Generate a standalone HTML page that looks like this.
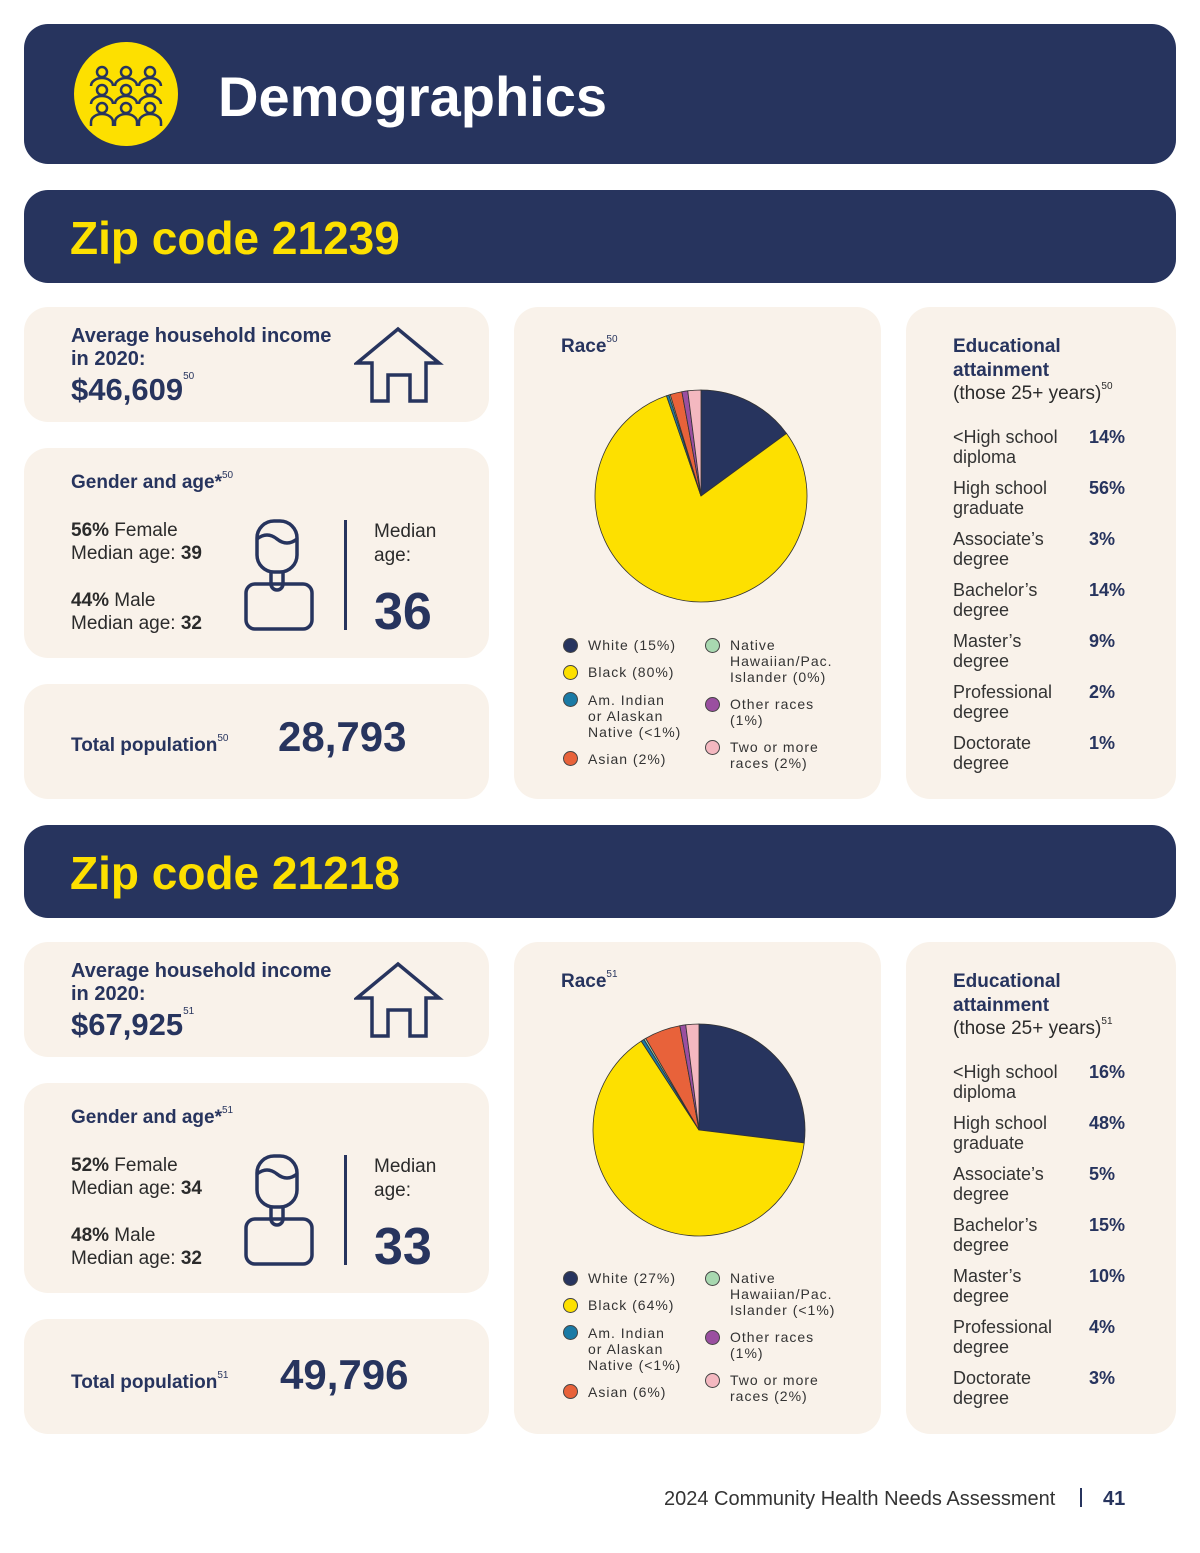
<!DOCTYPE html>
<html><head><meta charset="utf-8">
<style>
*{margin:0;padding:0;box-sizing:border-box}
body{width:1200px;height:1553px;background:#fff;position:relative;overflow:hidden;font-family:"Liberation Sans",sans-serif;color:#27345e}
.a{position:absolute}
.box{position:absolute;border-radius:24px}
.navy{background:#27345e}
.card{background:#f9f2ea}
.t{position:absolute;line-height:1;white-space:nowrap}
.b{font-weight:bold}
.sup{font-size:10px;font-weight:normal;vertical-align:top;position:relative;top:-2px}
.r{color:#2b2b2b;font-size:18px}
.lg{position:absolute;font-size:14px;letter-spacing:1px;line-height:16px;color:#333;white-space:nowrap}
.dot{position:absolute;width:15px;height:15px;border-radius:50%;border:1px solid #444}
.el{position:absolute;font-size:18px;line-height:20px;color:#333;white-space:nowrap}
.ep{position:absolute;font-size:18px;font-weight:bold;line-height:20px;color:#27345e}
.sec{position:absolute;left:0;width:1200px;height:640px}
</style></head><body>
<div class="box navy" style="left:24px;top:24px;width:1152px;height:140px">
  <svg class="a" style="left:50px;top:18px" width="104" height="104">
    <circle cx="52" cy="52" r="52" fill="#fde000"/>
    <g fill="none" stroke="#27345e" stroke-width="2.5">
      <circle cx="28" cy="30" r="5"/><circle cx="52" cy="30" r="5"/><circle cx="76" cy="30" r="5"/>
      <circle cx="28" cy="48" r="5"/><circle cx="52" cy="48" r="5"/><circle cx="76" cy="48" r="5"/>
      <circle cx="28" cy="66" r="5"/><circle cx="52" cy="66" r="5"/><circle cx="76" cy="66" r="5"/>
      <path d="M17 44a11 8 0 0 1 22 0M41 44a11 8 0 0 1 22 0M65 44a11 8 0 0 1 22 0"/>
      <path d="M17 62a11 8 0 0 1 22 0M41 62a11 8 0 0 1 22 0M65 62a11 8 0 0 1 22 0"/>
      <path d="M17 84v-4a11 8 0 0 1 22 0v4M41 84v-4a11 8 0 0 1 22 0v4M65 84v-4a11 8 0 0 1 22 0v4"/>
    </g>
  </svg>
  <div class="t b" style="left:194px;top:45px;font-size:56px;color:#fff">Demographics</div>
</div>

<!-- SECTION 1 -->
<div class="sec" style="top:0">
  <div class="box navy" style="left:24px;top:190px;width:1152px;height:93px">
    <div class="t b" style="left:46px;top:25px;font-size:46px;color:#fde000">Zip code 21239</div>
  </div>
  <div class="box card" style="left:24px;top:307px;width:465px;height:115px">
    <div class="t b" style="left:47px;top:19px;font-size:20px">Average household income</div>
    <div class="t b" style="left:47px;top:42px;font-size:20px">in 2020:</div>
    <div class="t b" style="left:47px;top:67px;font-size:31px">$46,609<span class="sup">50</span></div>
    <svg class="a" style="left:330px;top:18px" width="90" height="80"><path d="M3 38L44 4L85 38H72V76H56V50H34V76H18V38Z" fill="none" stroke="#27345e" stroke-width="3.5" stroke-linejoin="miter"/></svg>
  </div>
  <div class="box card" style="left:24px;top:448px;width:465px;height:210px">
    <div class="t b" style="left:47px;top:25px;font-size:19px">Gender and age*<span class="sup">50</span></div>
    <div class="t r" style="left:47px;top:73px;font-size:19px"><b>56%</b> Female</div>
    <div class="t r" style="left:47px;top:96px;font-size:19px">Median age: <b>39</b></div>
    <div class="t r" style="left:47px;top:143px;font-size:19px"><b>44%</b> Male</div>
    <div class="t r" style="left:47px;top:166px;font-size:19px">Median age: <b>32</b></div>
    <svg class="a" style="left:218px;top:70px" width="74" height="114"><g fill="none" stroke="#27345e" stroke-width="3.5"><rect x="15" y="3" width="40" height="51" rx="17"/><path d="M15 21q10 -8 20 0t20 0"/><path d="M29 54v12a6 6 0 0 0 12 0v-12"/><rect x="4" y="66" width="66" height="45" rx="9"/></g></svg>
    <div class="a" style="left:320px;top:72px;width:3px;height:110px;background:#27345e"></div>
    <div class="t r" style="left:350px;top:74px;font-size:19px">Median</div>
    <div class="t r" style="left:350px;top:98px;font-size:19px">age:</div>
    <div class="t b" style="left:350px;top:138px;font-size:52px">36</div>
  </div>
  <div class="box card" style="left:24px;top:684px;width:465px;height:115px">
    <div class="t b" style="left:47px;top:52px;font-size:19px">Total population<span class="sup">50</span></div>
    <div class="t b" style="left:254px;top:32px;font-size:42px">28,793</div>
  </div>
  <div class="box card" style="left:514px;top:307px;width:367px;height:492px">
    <div class="t b" style="left:47px;top:30px;font-size:19px">Race<span class="sup">50</span></div>
    <svg id="pie1" class="a" style="left:0;top:0" width="367" height="320"></svg>
    <div class="dot" style="left:49px;top:331px;background:#27345e"></div><div class="lg" style="left:74px;top:330px">White (15%)</div>
    <div class="dot" style="left:49px;top:358px;background:#fde000"></div><div class="lg" style="left:74px;top:357px">Black (80%)</div>
    <div class="dot" style="left:49px;top:385px;background:#1a7aa5"></div><div class="lg" style="left:74px;top:385px">Am. Indian<br>or Alaskan<br>Native (&lt;1%)</div>
    <div class="dot" style="left:49px;top:444px;background:#e8623a"></div><div class="lg" style="left:74px;top:444px">Asian (2%)</div>
    <div class="dot" style="left:191px;top:331px;background:#a8d8b0"></div><div class="lg" style="left:216px;top:330px">Native<br>Hawaiian/Pac.<br>Islander (0%)</div>
    <div class="dot" style="left:191px;top:390px;background:#9a4fa0"></div><div class="lg" style="left:216px;top:389px">Other races<br>(1%)</div>
    <div class="dot" style="left:191px;top:433px;background:#f4b8c0"></div><div class="lg" style="left:216px;top:432px">Two or more<br>races (2%)</div>
  </div>
  <div class="box card" style="left:906px;top:307px;width:270px;height:492px">
    <div class="t b" style="left:47px;top:30px;font-size:19px">Educational</div>
    <div class="t b" style="left:47px;top:54px;font-size:19px">attainment</div>
    <div class="t r" style="left:47px;top:77px;font-size:19px">(those 25+ years)<span class="sup">50</span></div>
    <div class="el" style="left:47px;top:120px">&lt;High school<br>diploma</div><div class="ep" style="left:183px;top:120px">14%</div>
    <div class="el" style="left:47px;top:171px">High school<br>graduate</div><div class="ep" style="left:183px;top:171px">56%</div>
    <div class="el" style="left:47px;top:222px">Associate’s<br>degree</div><div class="ep" style="left:183px;top:222px">3%</div>
    <div class="el" style="left:47px;top:273px">Bachelor’s<br>degree</div><div class="ep" style="left:183px;top:273px">14%</div>
    <div class="el" style="left:47px;top:324px">Master’s<br>degree</div><div class="ep" style="left:183px;top:324px">9%</div>
    <div class="el" style="left:47px;top:375px">Professional<br>degree</div><div class="ep" style="left:183px;top:375px">2%</div>
    <div class="el" style="left:47px;top:426px">Doctorate<br>degree</div><div class="ep" style="left:183px;top:426px">1%</div>
  </div>
</div>

<!-- SECTION 2 -->
<div class="sec" style="top:635px">
  <div class="box navy" style="left:24px;top:190px;width:1152px;height:93px">
    <div class="t b" style="left:46px;top:25px;font-size:46px;color:#fde000">Zip code 21218</div>
  </div>
  <div class="box card" style="left:24px;top:307px;width:465px;height:115px">
    <div class="t b" style="left:47px;top:19px;font-size:20px">Average household income</div>
    <div class="t b" style="left:47px;top:42px;font-size:20px">in 2020:</div>
    <div class="t b" style="left:47px;top:67px;font-size:31px">$67,925<span class="sup">51</span></div>
    <svg class="a" style="left:330px;top:18px" width="90" height="80"><path d="M3 38L44 4L85 38H72V76H56V50H34V76H18V38Z" fill="none" stroke="#27345e" stroke-width="3.5"/></svg>
  </div>
  <div class="box card" style="left:24px;top:448px;width:465px;height:210px">
    <div class="t b" style="left:47px;top:25px;font-size:19px">Gender and age*<span class="sup">51</span></div>
    <div class="t r" style="left:47px;top:73px;font-size:19px"><b>52%</b> Female</div>
    <div class="t r" style="left:47px;top:96px;font-size:19px">Median age: <b>34</b></div>
    <div class="t r" style="left:47px;top:143px;font-size:19px"><b>48%</b> Male</div>
    <div class="t r" style="left:47px;top:166px;font-size:19px">Median age: <b>32</b></div>
    <svg class="a" style="left:218px;top:70px" width="74" height="114"><g fill="none" stroke="#27345e" stroke-width="3.5"><rect x="15" y="3" width="40" height="51" rx="17"/><path d="M15 21q10 -8 20 0t20 0"/><path d="M29 54v12a6 6 0 0 0 12 0v-12"/><rect x="4" y="66" width="66" height="45" rx="9"/></g></svg>
    <div class="a" style="left:320px;top:72px;width:3px;height:110px;background:#27345e"></div>
    <div class="t r" style="left:350px;top:74px;font-size:19px">Median</div>
    <div class="t r" style="left:350px;top:98px;font-size:19px">age:</div>
    <div class="t b" style="left:350px;top:138px;font-size:52px">33</div>
  </div>
  <div class="box card" style="left:24px;top:684px;width:465px;height:115px">
    <div class="t b" style="left:47px;top:54px;font-size:19px">Total population<span class="sup">51</span></div>
    <div class="t b" style="left:256px;top:35px;font-size:42px">49,796</div>
  </div>
  <div class="box card" style="left:514px;top:307px;width:367px;height:492px">
    <div class="t b" style="left:47px;top:30px;font-size:19px">Race<span class="sup">51</span></div>
    <svg id="pie2" class="a" style="left:0;top:0" width="367" height="320"></svg>
    <div class="dot" style="left:49px;top:329px;background:#27345e"></div><div class="lg" style="left:74px;top:328px">White (27%)</div>
    <div class="dot" style="left:49px;top:356px;background:#fde000"></div><div class="lg" style="left:74px;top:355px">Black (64%)</div>
    <div class="dot" style="left:49px;top:383px;background:#1a7aa5"></div><div class="lg" style="left:74px;top:383px">Am. Indian<br>or Alaskan<br>Native (&lt;1%)</div>
    <div class="dot" style="left:49px;top:442px;background:#e8623a"></div><div class="lg" style="left:74px;top:442px">Asian (6%)</div>
    <div class="dot" style="left:191px;top:329px;background:#a8d8b0"></div><div class="lg" style="left:216px;top:328px">Native<br>Hawaiian/Pac.<br>Islander (&lt;1%)</div>
    <div class="dot" style="left:191px;top:388px;background:#9a4fa0"></div><div class="lg" style="left:216px;top:387px">Other races<br>(1%)</div>
    <div class="dot" style="left:191px;top:431px;background:#f4b8c0"></div><div class="lg" style="left:216px;top:430px">Two or more<br>races (2%)</div>
  </div>
  <div class="box card" style="left:906px;top:307px;width:270px;height:492px">
    <div class="t b" style="left:47px;top:30px;font-size:19px">Educational</div>
    <div class="t b" style="left:47px;top:54px;font-size:19px">attainment</div>
    <div class="t r" style="left:47px;top:77px;font-size:19px">(those 25+ years)<span class="sup">51</span></div>
    <div class="el" style="left:47px;top:120px">&lt;High school<br>diploma</div><div class="ep" style="left:183px;top:120px">16%</div>
    <div class="el" style="left:47px;top:171px">High school<br>graduate</div><div class="ep" style="left:183px;top:171px">48%</div>
    <div class="el" style="left:47px;top:222px">Associate’s<br>degree</div><div class="ep" style="left:183px;top:222px">5%</div>
    <div class="el" style="left:47px;top:273px">Bachelor’s<br>degree</div><div class="ep" style="left:183px;top:273px">15%</div>
    <div class="el" style="left:47px;top:324px">Master’s<br>degree</div><div class="ep" style="left:183px;top:324px">10%</div>
    <div class="el" style="left:47px;top:375px">Professional<br>degree</div><div class="ep" style="left:183px;top:375px">4%</div>
    <div class="el" style="left:47px;top:426px">Doctorate<br>degree</div><div class="ep" style="left:183px;top:426px">3%</div>
  </div>
</div>

<div class="t" style="left:664px;top:1489px;font-size:20px;color:#333">2024 Community Health Needs Assessment</div>
<div class="a" style="left:1080px;top:1488px;width:2px;height:19px;background:#27345e"></div>
<div class="t b" style="left:1103px;top:1489px;font-size:20px">41</div>

<script>
const raceCategories = ["White","Black","Am. Indian or Alaskan Native","Native Hawaiian/Pac. Islander","Asian","Other races","Two or more races"];
const race21239 = [15, 80, 0.4, 0.2, 1.8, 0.9, 2];
const race21218 = [27, 64, 0.5, 0.3, 5.5, 0.9, 2];
const raceColors = ["#27345e","#fde000","#1a7aa5","#a8d8b0","#e8623a","#9a4fa0","#f4b8c0"];
function drawPie(id, values, cx, cy, r){
  const svg = document.getElementById(id);
  const total = values.reduce((a,b)=>a+b,0);
  let ang = 0;
  values.forEach((v,i)=>{
    const a0 = ang/total*2*Math.PI, a1 = (ang+v)/total*2*Math.PI;
    ang += v;
    const x0 = cx + r*Math.sin(a0), y0 = cy - r*Math.cos(a0);
    const x1 = cx + r*Math.sin(a1), y1 = cy - r*Math.cos(a1);
    const large = (a1-a0) > Math.PI ? 1 : 0;
    const p = document.createElementNS("http://www.w3.org/2000/svg","path");
    p.setAttribute("d", `M${cx} ${cy}L${x0} ${y0}A${r} ${r} 0 ${large} 1 ${x1} ${y1}Z`);
    p.setAttribute("fill", raceColors[i]);
    p.setAttribute("stroke", "#333");
    p.setAttribute("stroke-width", "0.8");
    
    
    svg.appendChild(p);
  });
}
drawPie("pie1", race21239, 187, 189, 106);
drawPie("pie2", race21218, 185, 188, 106);
</script>
</body></html>
